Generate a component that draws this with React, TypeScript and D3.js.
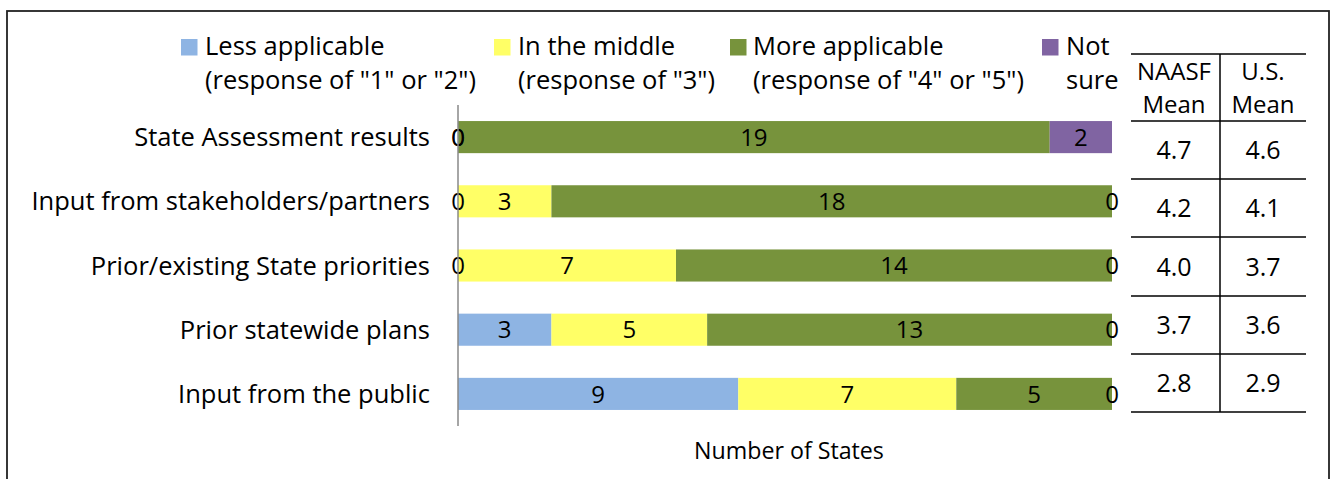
import React from "react";
import * as d3 from "d3";

const categories = [
  "State Assessment results",
  "Input from stakeholders/partners",
  "Prior/existing State priorities",
  "Prior statewide plans",
  "Input from the public",
];
const seriesNames = ["Less applicable", "In the middle", "More applicable", "Not"];
const seriesSubNames = ['(response of "1" or "2")', '(response of "3")', '(response of "4" or "5")', "sure"];
const lessApplicable = [0, 0, 0, 3, 9];
const inTheMiddle = [0, 3, 7, 5, 7];
const moreApplicable = [19, 18, 14, 13, 5];
const notSure = [2, 0, 0, 0, 0];
const naasfMean = ["4.7", "4.2", "4.0", "3.7", "2.8"];
const usMean = ["4.6", "4.1", "3.7", "3.6", "2.9"];
const tableHeaders = [["NAASF", "Mean"], ["U.S.", "Mean"]];
const axisTitle = "Number of States";

const colors = ["#8EB4E3", "#FFFF66", "#77933C", "#8064A2"];
const FONT = "'Open Sans', 'Noto Sans', sans-serif";

export default function App() {
  const W = 1333, H = 479;
  const x = d3.scaleLinear().domain([0, 21]).range([458, 1112]);
  const y = d3.scaleBand<string>().domain(categories).range([105, 426]).paddingInner(0.5).paddingOuter(0.25);
  const series = [lessApplicable, inTheMiddle, moreApplicable, notSure];
  const rows = categories.map((c, i) => {
    const r: any = { cat: c };
    series.forEach((s, k) => (r["s" + k] = s[i]));
    return r;
  });
  const stack = d3.stack<any>().keys(["s0", "s1", "s2", "s3"])(rows);

  const legendSq = [181, 494, 730, 1042];
  const legendTx = [205, 518, 753, 1066];

  const tX0 = 1131, tX1 = 1306, tMid = 1220;
  const tableLines = [54, 121, 179, 237, 296, 354, 412];
  const colCenters = [1174, 1263];

  const fs = 25.5;

  return (
    <svg width={W} height={H} style={{ position: "absolute", left: 0, top: 0, display: "block" }} fontFamily={FONT}>
      <rect x={0} y={0} width={W} height={H} fill="#fff" />
      <rect x={7} y={11} width={1322} height={500} fill="none" stroke="#222" strokeWidth={1.8} />

      {/* legend */}
      {seriesNames.map((n, k) => (
        <g key={n}>
          <rect x={legendSq[k]} y={39} width={16.5} height={16.5} fill={colors[k]} />
          <text x={legendTx[k]} y={55} fontSize={fs} fill="#000">{n}</text>
          <text x={legendTx[k]} y={89} fontSize={fs} fill="#000">{seriesSubNames[k]}</text>
        </g>
      ))}

      {/* bars */}
      {stack.map((layer, k) => (
        <g key={k}>
          {layer.map((d, i) => (
            <rect
              key={i}
              x={x(d[0])}
              y={y(categories[i])!}
              width={x(d[1]) - x(d[0])}
              height={y.bandwidth()}
              fill={colors[k]}
            />
          ))}
        </g>
      ))}
      {/* bar labels */}
      {stack.map((layer, k) => (
        <g key={"l" + k}>
          {layer.map((d, i) => (
            <text
              key={i}
              x={(x(d[0]) + x(d[1])) / 2}
              y={y(categories[i])! + y.bandwidth() / 2}
              dy="0.36em"
              textAnchor="middle"
              fontSize={24}
              fill="#000"
            >
              {d[1] - d[0]}
            </text>
          ))}
        </g>
      ))}

      {/* axis */}
      <line x1={x(0)} x2={x(0)} y1={105} y2={426} stroke="#888" strokeWidth={1.5} />
      {categories.map((c) => (
        <text key={c} x={430} y={y(c)! + y.bandwidth() / 2} dy="0.36em" textAnchor="end" fontSize={fs} fill="#000">
          {c}
        </text>
      ))}
      <text x={789} y={459} textAnchor="middle" fontSize={23.2} fill="#000">{axisTitle}</text>

      {/* table */}
      {tableLines.map((ly) => (
        <line key={ly} x1={tX0} x2={tX1} y1={ly} y2={ly} stroke="#000" strokeWidth={1.5} />
      ))}
      <line x1={tMid} x2={tMid} y1={54} y2={412} stroke="#000" strokeWidth={1.5} />
      {tableHeaders.map((h, c) => (
        <g key={c}>
          <text x={colCenters[c]} y={80} textAnchor="middle" fontSize={24} fill="#000">{h[0]}</text>
          <text x={colCenters[c]} y={113} textAnchor="middle" fontSize={24} fill="#000">{h[1]}</text>
        </g>
      ))}
      {categories.map((c, i) => {
        const cy = (tableLines[i + 1] + tableLines[i + 2]) / 2;
        return (
          <g key={c}>
            <text x={colCenters[0]} y={cy} dy="0.36em" textAnchor="middle" fontSize={25} fill="#000">{naasfMean[i]}</text>
            <text x={colCenters[1]} y={cy} dy="0.36em" textAnchor="middle" fontSize={25} fill="#000">{usMean[i]}</text>
          </g>
        );
      })}
    </svg>
  );
}
